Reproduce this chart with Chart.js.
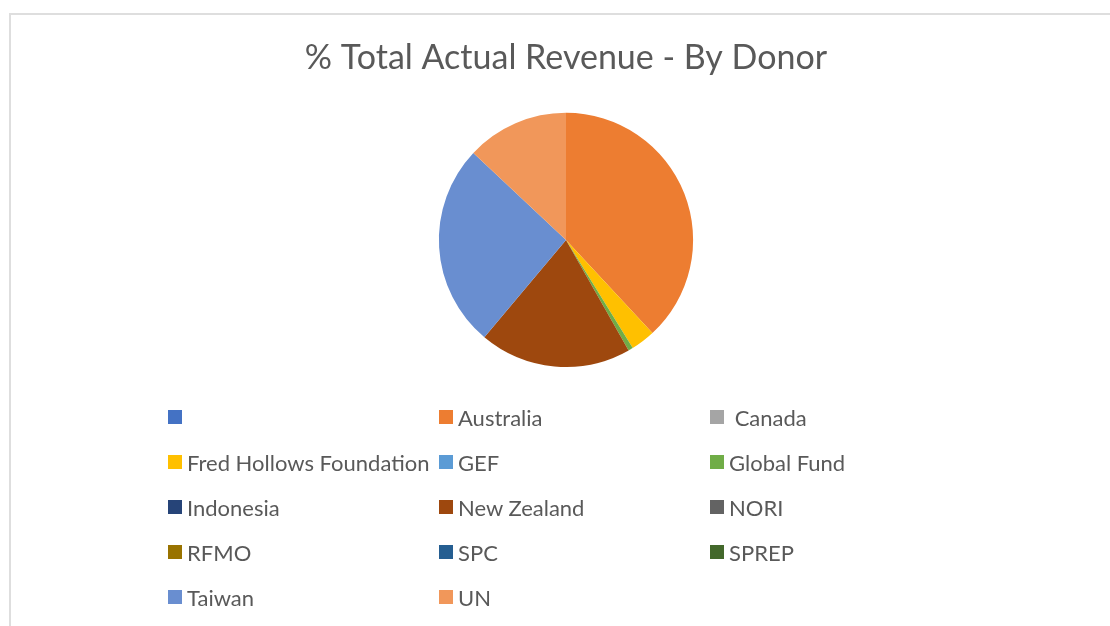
<!DOCTYPE html>
<html>
<head>
<meta charset="utf-8">
<script src="https://cdn.jsdelivr.net/npm/chart.js@4"></script>
<style>
  html, body { margin: 0; padding: 0; background: #fff; }
  body { width: 1110px; height: 626px; position: relative; overflow: hidden; }
  #frame { position: absolute; left: 9px; top: 13px; width: 1200px; height: 700px;
           border-left: 2px solid #dedede; border-top: 2px solid #dedede; }
  #wrap { position: absolute; left: 0; top: 0; width: 1110px; height: 626px; }
  #legend { position: absolute; left: 0; top: 0; width: 1110px; height: 626px; pointer-events: none; }
  .item { position: absolute; height: 30px; display: flex; align-items: center;
          font-family: Lato, "Liberation Sans", sans-serif; font-size: 22px; color: #595959; white-space: pre; }
  .box { width: 14px; height: 14px; margin-right: 5px; flex: none; }
</style>
</head>
<body>
<div id="frame"></div>
<div id="wrap"><canvas id="donorChart" width="1110" height="626"></canvas></div>
<div id="legend"></div>
<script>
// donors, in legend order
const donors = ['', 'Australia', ' Canada', 'Fred Hollows Foundation', 'GEF', 'Global Fund',
  'Indonesia', 'New Zealand', 'NORI', 'RFMO', 'SPC', 'SPREP', 'Taiwan', 'UN'];
// share of total actual revenue (%)
const shares = [0, 38.1, 0, 3.1, 0, 0.6, 0, 19.3, 0, 0, 0, 0, 25.9, 13.0];
const colors = ['#4472C4', '#ED7D31', '#A5A5A5', '#FFC000', '#5B9BD5', '#70AD47',
  '#264478', '#9E480E', '#636363', '#997300', '#255E91', '#43682B', '#698ED0', '#F1975A'];

const ctx = document.getElementById('donorChart').getContext('2d');
new Chart(ctx, {
  type: 'pie',
  data: {
    labels: donors,
    datasets: [{
      data: shares,
      backgroundColor: colors,
      borderWidth: 0,
    }],
  },
  options: {
    responsive: false,
    animation: false,
    layout: { padding: { top: 28, left: 22, right: 0, bottom: 259 } },
    plugins: {
      legend: { display: false },
      tooltip: { enabled: false },
      title: {
        display: true,
        text: '% Total Actual Revenue - By Donor',
        color: '#595959',
        font: { family: 'Lato, "Liberation Sans", sans-serif', size: 34, weight: 'normal' },
        padding: { top: 10, bottom: 34 },
      },
    },
  },
});

// legend in three columns, like the original
const legend = document.getElementById('legend');
donors.forEach((name, i) => {
  const col = i % 3, row = Math.floor(i / 3);
  const item = document.createElement('div');
  item.className = 'item';
  item.style.left = (168 + col * 271) + 'px';
  item.style.top = (418 + row * 45 - 16) + 'px';
  const box = document.createElement('span');
  box.className = 'box';
  box.style.background = colors[i];
  item.appendChild(box);
  item.appendChild(document.createTextNode(name));
  legend.appendChild(item);
});
</script>
</body>
</html>
